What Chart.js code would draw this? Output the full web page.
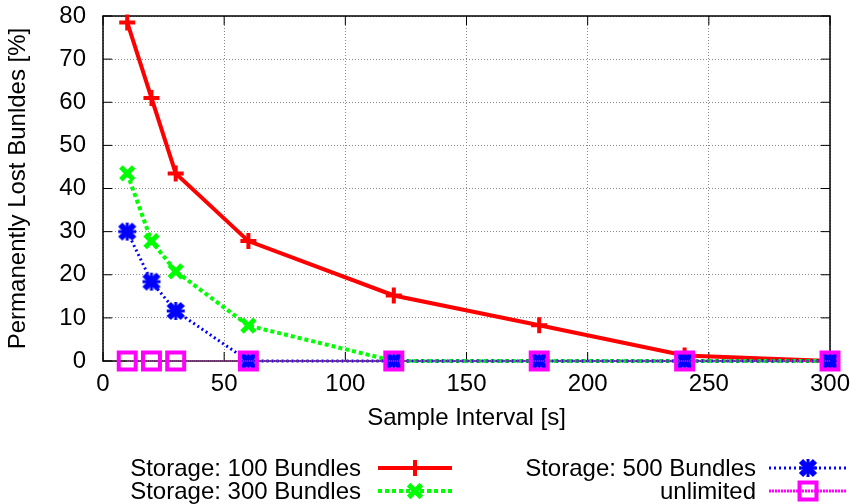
<!DOCTYPE html>
<html>
<head>
<meta charset="utf-8">
<script src="https://cdn.jsdelivr.net/npm/chart.js@4.4.0/dist/chart.umd.min.js"></script>
<style>
  html, body { margin: 0; padding: 0; background: #fff; }
  #wrap { width: 856px; height: 504px; }
</style>
</head>
<body>
<div id="wrap"><canvas id="lossChart" width="856" height="504"></canvas></div>
<script>
const intervals = [10, 20, 30, 60, 120, 180, 240, 300];
const lost100 = [78.5, 61, 43.5, 27.8, 15.2, 8.3, 1.3, 0];
const lost300 = [43.5, 27.8, 20.8, 8.2, 0, 0, 0, 0];
const lost500 = [30, 18.4, 11.6, 0, 0, 0, 0, 0];
const lostUnlimited = [0, 0, 0, 0, 0, 0, 0, 0];
const seriesLabels = ['Storage: 100 Bundles', 'Storage: 300 Bundles', 'Storage: 500 Bundles', 'unlimited'];
const xTicks = [0, 50, 100, 150, 200, 250, 300];
const yTicks = [0, 10, 20, 30, 40, 50, 60, 70, 80];

const FONT = 'Liberation Sans, Arial, sans-serif';
const FS = 24;

function pts(ys) {
  return intervals.map((x, i) => ({ x: x, y: ys[i] }));
}

// chunky x with a small plus, like gnuplot's pt 3 at lw 3
function fatStar(color) {
  const c = document.createElement('canvas');
  c.width = 24; c.height = 24;
  const g = c.getContext('2d');
  g.strokeStyle = color;
  g.lineWidth = 6;
  g.beginPath();
  g.moveTo(5, 5); g.lineTo(19, 19);
  g.moveTo(19, 5); g.lineTo(5, 19);
  g.stroke();
  g.lineWidth = 3;
  g.beginPath();
  g.moveTo(12, 3); g.lineTo(12, 21);
  g.moveTo(3, 12); g.lineTo(21, 12);
  g.stroke();
  return c;
}
const blueStar = fatStar('#0000ff');

// frame + inward ticks
const framePlugin = {
  id: 'frame',
  beforeDatasetsDraw(chart) {
    const { ctx, chartArea: a, scales } = chart;
    ctx.save();
    ctx.strokeStyle = '#000';
    ctx.lineWidth = 1.5;
    ctx.strokeRect(a.left, a.top, a.right - a.left, a.bottom - a.top);
    ctx.lineWidth = 1;
    const t = 9;
    ctx.beginPath();
    xTicks.forEach(v => {
      const x = scales.x.getPixelForValue(v);
      ctx.moveTo(x, a.bottom); ctx.lineTo(x, a.bottom - t);
      ctx.moveTo(x, a.top); ctx.lineTo(x, a.top + t);
    });
    yTicks.forEach(v => {
      const y = scales.y.getPixelForValue(v);
      ctx.moveTo(a.left, y); ctx.lineTo(a.left + t, y);
      ctx.moveTo(a.right, y); ctx.lineTo(a.right - t, y);
    });
    ctx.stroke();
    ctx.restore();
  }
};

// two-column legend under the plot
const legendPlugin = {
  id: 'bottomLegend',
  afterDraw(chart) {
    const ctx = chart.ctx;
    const slots = [
      { i: 0, right: 361, x0: 378, x1: 452, y: 468 },
      { i: 1, right: 361, x0: 378, x1: 452, y: 491 },
      { i: 2, right: 756, x0: 769, x1: 847, y: 468 },
      { i: 3, right: 756, x0: 769, x1: 847, y: 491 }
    ];
    slots.forEach(s => {
      const ds = chart.data.datasets[s.i];
      ctx.save();
      ctx.font = FS + 'px ' + FONT;
      ctx.fillStyle = '#000';
      ctx.textAlign = 'right';
      ctx.textBaseline = 'middle';
      ctx.fillText(seriesLabels[s.i], s.right, s.y + 1);
      ctx.strokeStyle = ds.borderColor;
      ctx.lineWidth = s.i === 3 ? 3 : ds.borderWidth;
      ctx.setLineDash(s.i === 3 ? [2, 1] : (ds.borderDash || []));
      ctx.beginPath();
      ctx.moveTo(s.x0, s.y); ctx.lineTo(s.x1, s.y);
      ctx.stroke();
      ctx.setLineDash([]);
      ctx.strokeStyle = ds.pointBorderColor;
      ctx.fillStyle = ds.pointBackgroundColor;
      ctx.lineWidth = ds.pointBorderWidth;
      Chart.helpers.drawPoint(ctx, {
        pointStyle: ds.pointStyle,
        radius: ds.pointRadius,
        rotation: 0,
        borderWidth: ds.pointBorderWidth
      }, (s.x0 + s.x1) / 2, s.y);
      ctx.restore();
    });
  }
};

function noPad(s) {
  s.paddingLeft = 0; s.paddingRight = 0; s.paddingTop = 0; s.paddingBottom = 0;
}

new Chart(document.getElementById('lossChart').getContext('2d'), {
  type: 'line',
  data: {
    datasets: [
      {
        label: seriesLabels[0], data: pts(lost100), order: 3,
        borderColor: '#ff0000', borderWidth: 4,
        pointStyle: 'cross', pointRadius: 8, pointBorderWidth: 4,
        pointBorderColor: '#ff0000', pointBackgroundColor: '#ff0000'
      },
      {
        label: seriesLabels[1], data: pts(lost300), order: 2,
        borderColor: '#00ff00', borderWidth: 4, borderDash: [4, 3],
        pointStyle: 'crossRot', pointRadius: 9, pointBorderWidth: 5,
        pointBorderColor: '#00ff00', pointBackgroundColor: '#00ff00'
      },
      {
        label: seriesLabels[2], data: pts(lost500), order: 1,
        borderColor: '#0000ff', borderWidth: 3, borderDash: [2, 3],
        pointStyle: blueStar, pointRadius: 8, pointBorderWidth: 5,
        pointBorderColor: '#0000ff', pointBackgroundColor: '#0000ff'
      },
      {
        label: seriesLabels[3], data: pts(lostUnlimited), order: 0,
        borderColor: '#ff00ff', borderWidth: 2, borderDash: [1, 1],
        pointStyle: 'rect', pointRadius: 12, pointBorderWidth: 4,
        pointBorderColor: '#ff00ff', pointBackgroundColor: 'rgba(0,0,0,0)'
      }
    ]
  },
  options: {
    responsive: false,
    animation: false,
    clip: false,
    layout: { padding: { top: 15, right: 26, left: 0, bottom: 71 } },
    plugins: {
      legend: { display: false },
      tooltip: { enabled: false }
    },
    elements: { line: { tension: 0 } },
    scales: {
      x: {
        type: 'linear', min: 0, max: 300,
        afterFit: s => { s.height = 72; noPad(s); },
        ticks: { stepSize: 50, padding: 9, color: '#000', font: { family: FONT, size: FS } },
        grid: { color: '#888', lineWidth: 1, drawTicks: false },
        border: { display: false, dash: [1, 2] },
        title: { display: true, text: 'Sample Interval [s]', color: '#000', padding: 0, font: { family: FONT, size: FS } }
      },
      y: {
        min: 0, max: 80,
        afterFit: s => { s.width = 103; noPad(s); },
        ticks: { stepSize: 10, padding: 17, color: '#000', font: { family: FONT, size: FS } },
        grid: { color: '#888', lineWidth: 1, drawTicks: false },
        border: { display: false, dash: [1, 2] },
        title: { display: true, text: 'Permanently Lost Bunldes [%]', color: '#000', padding: { top: 4, bottom: 0 }, font: { family: FONT, size: FS } }
      }
    }
  },
  plugins: [framePlugin, legendPlugin]
});
</script>
</body>
</html>
